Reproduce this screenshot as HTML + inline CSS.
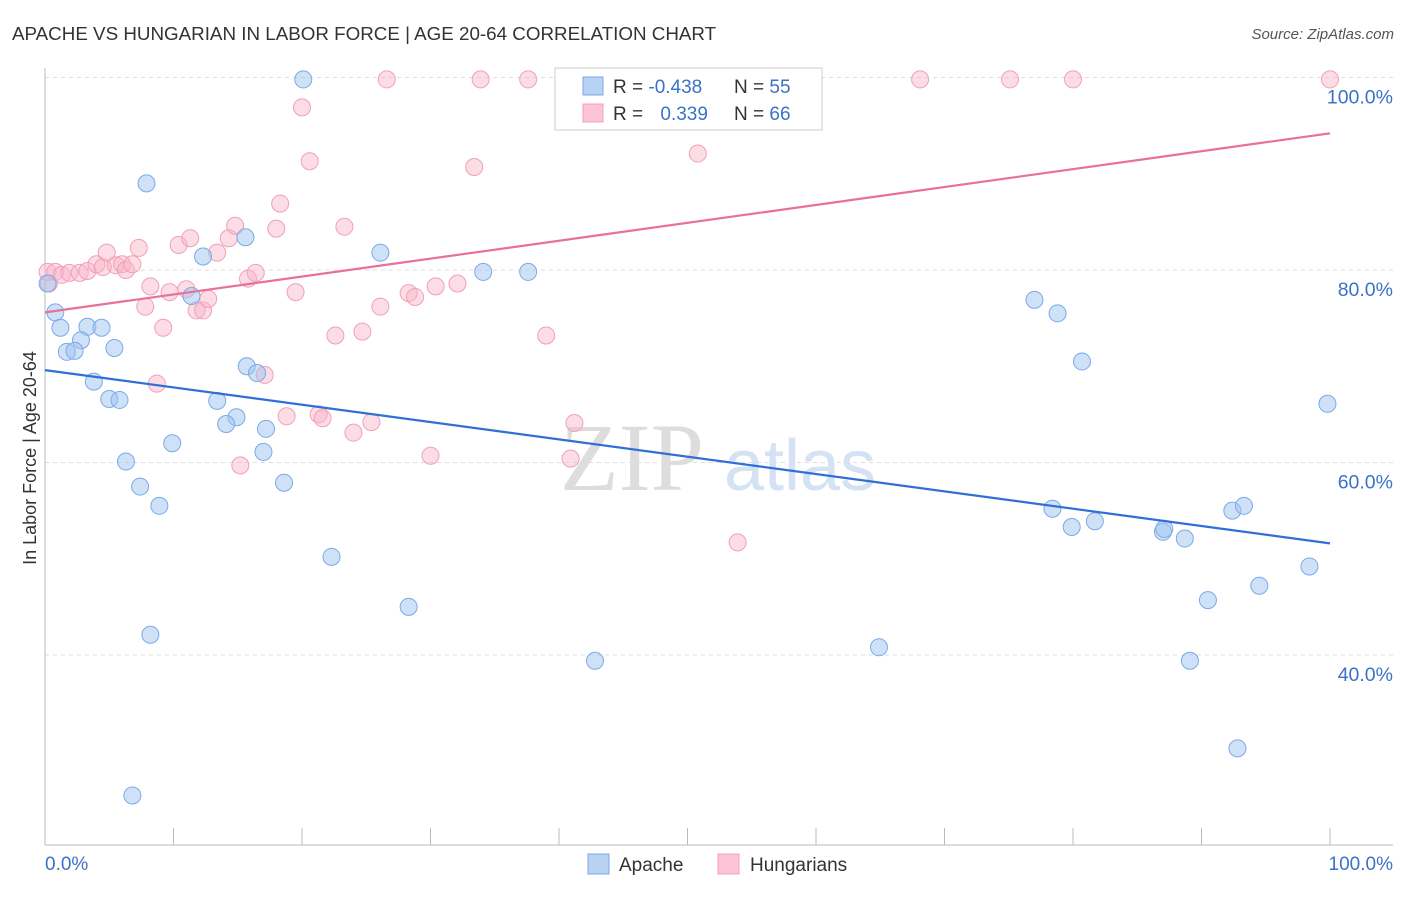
<!DOCTYPE html>
<html><head><meta charset="utf-8"><style>
body{margin:0;background:#fff;font-family:"Liberation Sans",sans-serif}
</style></head><body>
<svg width="1406" height="892" viewBox="0 0 1406 892" xmlns="http://www.w3.org/2000/svg">
<text x="12" y="40" font-size="18.8" fill="#333">APACHE VS HUNGARIAN IN LABOR FORCE | AGE 20-64 CORRELATION CHART</text>
<text x="1394" y="39" font-size="15" fill="#555" font-style="italic" text-anchor="end">Source: ZipAtlas.com</text>
<g id="grid"></g>
<g><text x="632" y="490" font-size="96" font-family="Liberation Serif,serif" fill="#ddd" text-anchor="middle">ZIP</text><text x="800" y="490" font-size="72" fill="#d4e2f4" text-anchor="middle">atlas</text></g>
<g id="pts"></g>
<g id="lines"></g>
<text x="36" y="458" font-size="18" fill="#333" transform="rotate(-90 36 458)" text-anchor="middle">In Labor Force | Age 20-64</text>
<text x="45" y="870" font-size="19" fill="#3a72c8">0.0%</text>
<text x="1393" y="870" font-size="19" fill="#3a72c8" text-anchor="end">100.0%</text>
<g>
<rect x="555" y="68" width="267" height="62" fill="#fff" stroke="#ccc"/>
<rect x="583" y="77" width="20" height="18" fill="#b8d2f4" stroke="#7aaae8"/>
<rect x="583" y="104" width="20" height="18" fill="#fcc4d4" stroke="#f0a0b8"/>
<text x="613" y="93" font-size="19" fill="#333">R = <tspan fill="#3a72c8">-0.438</tspan></text>
<text x="734" y="93" font-size="19" fill="#333">N = <tspan fill="#3a72c8">55</tspan></text>
<text x="613" y="120" font-size="19" fill="#333">R = <tspan fill="#3a72c8" dx="12">0.339</tspan></text>
<text x="734" y="120" font-size="19" fill="#333">N = <tspan fill="#3a72c8">66</tspan></text>
</g>
<g>
<rect x="588" y="854" width="21" height="20" fill="#b8d2f4" stroke="#7aaae8"/>
<text x="619" y="871" font-size="19" fill="#333">Apache</text>
<rect x="718" y="854" width="21" height="20" fill="#fcc4d4" stroke="#f0a0b8"/>
<text x="750" y="871" font-size="19" fill="#333">Hungarians</text>
</g>
</svg>
<script>
const yTicks=[40,60,80,100];
const yTickLabels=["40.0%","60.0%","80.0%","100.0%"];
const xTicks=[0,10,20,30,40,50,60,70,80,90,100];
const apacheX=[20.1,7.9,15.6,12.3,26.1,34.1,37.6,11.4,0.8,1.2,3.3,4.4,2.8,1.7,2.3,5.4,3.8,15.7,16.5,5.0,5.8,13.4,14.9,14.1,17.2,9.9,17.0,6.3,7.4,8.9,18.6,22.3,28.3,8.2,6.8,42.8,64.9,77.0,78.8,80.7,99.8,78.4,79.9,81.7,87.0,87.1,88.7,92.4,93.3,98.4,94.5,90.5,89.1,92.8,0.2];
const apacheY=[99.8,89.0,83.4,81.4,81.8,79.8,79.8,77.3,75.6,74.0,74.1,74.0,72.7,71.5,71.6,71.9,68.4,70.0,69.3,66.6,66.5,66.4,64.7,64.0,63.5,62.0,61.1,60.1,57.5,55.5,57.9,50.2,45.0,42.1,25.4,39.4,40.8,76.9,75.5,70.5,66.1,55.2,53.3,53.9,52.8,53.1,52.1,55.0,55.5,49.2,47.2,45.7,39.4,30.3,78.6];
const hungX=[0.3,0.2,0.8,1.3,1.9,2.7,3.3,4.0,4.5,4.8,5.5,6.0,6.3,6.8,7.3,8.2,7.8,9.2,8.7,9.7,10.4,11.0,11.3,11.8,12.3,12.7,13.4,14.3,14.8,15.8,16.4,17.1,15.2,18.0,18.3,19.5,20.0,20.6,18.8,21.3,21.6,22.6,23.3,24.0,24.7,25.4,26.1,26.6,28.3,28.8,30.0,30.4,32.1,33.4,33.9,37.6,39.0,40.9,41.2,50.8,53.9,68.1,75.1,80.0,100];
const hungY=[78.6,79.8,79.8,79.5,79.7,79.7,79.9,80.6,80.3,81.8,80.5,80.6,80.0,80.6,82.3,78.3,76.2,74.0,68.2,77.7,82.6,78.0,83.3,75.8,75.8,77.0,81.8,83.3,84.6,79.1,79.7,69.1,59.7,84.3,86.9,77.7,96.9,91.3,64.8,65.0,64.6,73.2,84.5,63.1,73.6,64.2,76.2,99.8,77.6,77.2,60.7,78.3,78.6,90.7,99.8,99.8,73.2,60.4,64.1,92.1,51.7,99.8,99.8,99.8,99.8];
const apacheTrend=[69.6,51.6];
const hungTrend=[75.6,94.2];
const NS="http://www.w3.org/2000/svg";
const xs=v=>45+v*12.85, ys=v=>77.5+(100-v)*9.625;
function mk(t,a,p){const e=document.createElementNS(NS,t);for(const k in a)e.setAttribute(k,a[k]);p.appendChild(e);return e;}
const g=document.getElementById('grid');
yTicks.forEach((v,i)=>{
 const l=mk('line',{x1:45,x2:1393,y1:ys(v),y2:ys(v),stroke:'#ddd','stroke-dasharray':'4,4'},g);
 
 
 const t=mk('text',{x:1393,y:ys(v)+26,'font-size':19.5,fill:'#3a72c8','text-anchor':'end'},g);
 t.textContent=yTickLabels[i];
 
 
});
const ax=mk('line',{x1:45,x2:1393,y1:845,y2:845,stroke:'#bbb'},g);


const ay=mk('line',{x1:45,x2:45,y1:68,y2:845,stroke:'#bbb'},g);


xTicks.forEach(v=>{
 const l=mk('line',{x1:xs(v),x2:xs(v),y1:828,y2:845,stroke:'#bbb'},g);
 
 
});
const p=document.getElementById('pts');
hungX.forEach((v,i)=>{
 const c=mk('circle',{cx:xs(v),cy:ys(hungY[i]),r:8.5,fill:'rgba(248,180,200,0.45)',stroke:'#f0a0b8','stroke-width':1},p);
 
 
});
apacheX.forEach((v,i)=>{
 const c=mk('circle',{cx:xs(v),cy:ys(apacheY[i]),r:8.5,fill:'rgba(160,196,240,0.5)',stroke:'#7aaae8','stroke-width':1},p);
 
 
});
const L=document.getElementById('lines');
const b=mk('line',{x1:xs(0),x2:xs(100),y1:ys(apacheTrend[0]),y2:ys(apacheTrend[1]),stroke:'#2f6fd6','stroke-width':2.2},L);


const h=mk('line',{x1:xs(0),x2:xs(100),y1:ys(hungTrend[0]),y2:ys(hungTrend[1]),stroke:'#e8709a','stroke-width':2.2},L);


</script>
</body></html>
